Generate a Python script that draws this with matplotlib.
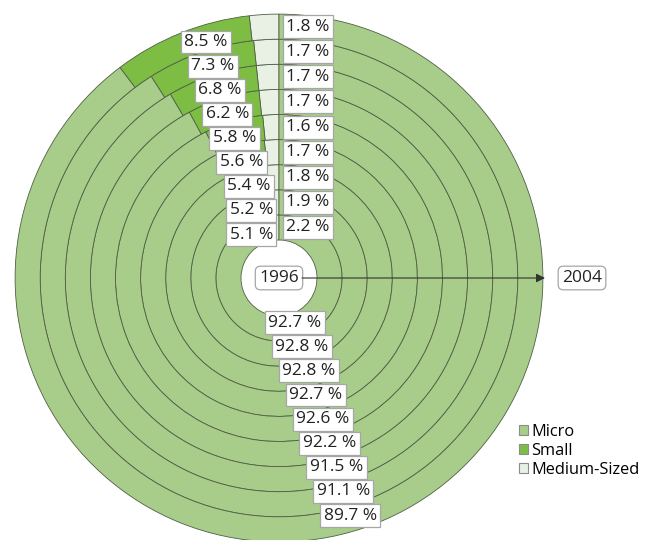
import numpy as np
import matplotlib
matplotlib.use("Agg")
from matplotlib import pyplot as plt
from matplotlib.patches import Patch

plt.rcParams["font.family"] = ["Open Sans", "DejaVu Sans"]

# shares per year, inner ring = 1996, outer ring = 2004
years = [1996, 1997, 1998, 1999, 2000, 2001, 2002, 2003, 2004]
micro = [92.7, 92.8, 92.8, 92.7, 92.6, 92.2, 91.5, 91.1, 89.7]
small = [5.1, 5.2, 5.4, 5.6, 5.8, 6.2, 6.8, 7.3, 8.5]
medium = [2.2, 1.9, 1.8, 1.7, 1.6, 1.7, 1.7, 1.7, 1.8]
series_names = ["Micro", "Small", "Medium-Sized"]

c_micro = "#a8cd8a"
c_small = "#7dbd43"
c_medium = "#e9f1e5"
edge = "#4f5f44"

hole = 38.0
ring_w = 25.1
fs = 12.5

fig = plt.figure(figsize=(6.46, 5.4), dpi=100)
ax = fig.add_axes([0, 0, 1, 1])

box = dict(boxstyle="square,pad=0.2", fc="white", ec="#a6a6a6", lw=0.9)

for i, yr in enumerate(years):
    r_out = hole + ring_w * (i + 1)
    ax.pie(
        [medium[i], small[i], micro[i]],
        colors=[c_medium, c_small, c_micro],
        startangle=90,
        counterclock=True,
        radius=r_out,
        wedgeprops=dict(width=ring_w, edgecolor=edge, linewidth=0.6),
    )

    r_mid = r_out - ring_w / 2
    # medium share: just right of the 12 o'clock line
    ax.text(7, r_mid, f"{medium[i]} %", ha="left", va="center",
            fontsize=fs, color="#222222", bbox=box, zorder=5)
    # small share: upper left, kept left of the 12 o'clock line
    a = np.deg2rad(106.5)
    x_right = min(r_mid * np.cos(a) + 20, -6)
    ax.text(x_right, r_mid * np.sin(a) - 5, f"{small[i]} %",
            ha="right", va="center", fontsize=fs, color="#222222",
            bbox=box, zorder=5)
    # micro share: below the centre
    a = np.deg2rad(286)
    ax.text(r_mid * np.cos(a) + 2, r_mid * np.sin(a) + 4, f"{micro[i]} %",
            ha="center", va="center", fontsize=fs, color="#222222",
            bbox=box, zorder=5)

rbox = dict(boxstyle="round,pad=0.22,rounding_size=0.3", fc="white",
            ec="#a6a6a6", lw=0.9)
ax.text(0, 0, str(years[0]), ha="center", va="center", fontsize=fs,
        color="#222222", bbox=rbox, zorder=6)
ax.annotate("", xy=(266, 0), xytext=(23, 0),
            arrowprops=dict(arrowstyle="-|>", color="#333333", lw=0.8,
                            mutation_scale=13, shrinkA=0, shrinkB=0),
            zorder=6)
ax.text(283, 0, str(years[-1]), ha="left", va="center", fontsize=fs,
        color="#222222", bbox=rbox, zorder=6)

handles = [Patch(fc=c, ec="#8c8c8c", lw=0.8) for c in (c_micro, c_small, c_medium)]
ax.legend(handles, series_names, loc="upper left",
          bbox_to_anchor=(0.803, 0.215), frameon=False, fontsize=11.8,
          handlelength=0.55, handleheight=0.55, handletextpad=0.2,
          labelspacing=0.18, borderpad=0, borderaxespad=0)

ax.set_aspect("equal")
ax.set_xlim(-279, 646 - 279)
ax.set_ylim(278 - 540, 278)
ax.axis("off")

fig.savefig("out.png", dpi=100)
